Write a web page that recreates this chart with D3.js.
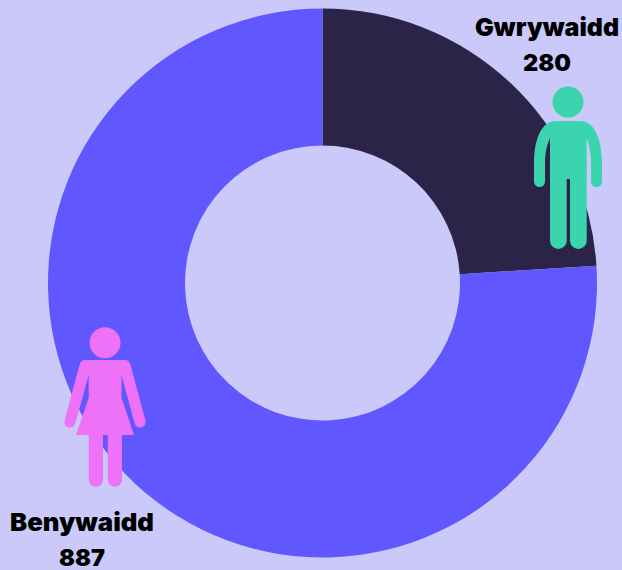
<!DOCTYPE html>
<html>
<head>
<meta charset="utf-8">
<script src="https://cdn.jsdelivr.net/npm/d3@7"></script>
<style>
    html, body { margin: 0; padding: 0; background: #cbc8fa; overflow: hidden; }
    svg { display: block; }
    .label { font-family: Inter, sans-serif; font-weight: 900; fill: #000; text-anchor: middle; }
    .name { font-size: 24.5px; }
    .count { font-size: 23.5px; }
</style>
</head>
<body>
<div id="chart"></div>
<script>
const categories = ["Gwrywaidd", "Benywaidd"];
const values = [280, 887];
const sliceColors = ["#2c2349", "#6157ff"];

const w = 622, h = 570;
const cx = 322.5, cy = 283, rOuter = 274.5, rInner = 137.5;

const svg = d3.select("#chart").append("svg")
    .attr("width", w)
    .attr("height", h);

const pie = d3.pie().sort(null).value(d => d);
const arc = d3.arc().innerRadius(rInner).outerRadius(rOuter);

svg.append("g")
    .attr("transform", `translate(${cx},${cy})`)
    .selectAll("path")
    .data(pie(values))
    .enter()
    .append("path")
        .attr("d", arc)
        .attr("fill", (d, i) => sliceColors[i]);

// figures, drawn around the centre of the head
const man = svg.append("g").attr("transform", "translate(568,102)").attr("fill", "#3ad4af");
man.append("circle").attr("r", 15.5);
man.append("path").attr("d",
    "M-12,19 H12 C26,19 34,36 34,62 V79.5 A5.5,5.5 0 0 1 23,79.5 V62 C23,50 21,43 18.7,36 " +
    "V138.7 A8.35,8.35 0 0 1 2,138.7 V77 H-1.3 V138.7 A8.35,8.35 0 0 1 -18,138.7 V36 " +
    "C-21,43 -23,50 -23,62 V79.5 A5.5,5.5 0 0 1 -34,79.5 V62 C-34,36 -26,19 -12,19 Z");

const woman = svg.append("g").attr("transform", "translate(105,342.7)").attr("fill", "#ee72f8");
woman.append("circle").attr("r", 15.5);
woman.append("path").attr("d",
    "M-20,17.3 H20 Q24,17.3 25.5,22 L40.5,78 A5.6,5.6 0 0 1 29.6,80.6 L16.5,32.5 V55 L29,92.3 H17 V137 " +
    "A7.1,7.1 0 0 1 2.8,137 V92.3 H-2 V137 A7.1,7.1 0 0 1 -16.2,137 V92.3 H-29 L-16.3,55 V32.5 " +
    "L-29.6,80.6 A5.6,5.6 0 0 1 -40.5,78 L-25.5,22 Q-24,17.3 -20,17.3 Z");

const labelX = [547, 82];
const labelY = [36, 531];

categories.forEach((c, i) => {
    svg.append("text").attr("class", "label name").attr("x", labelX[i]).attr("y", labelY[i])
        .attr("textLength", 144).attr("lengthAdjust", "spacingAndGlyphs").text(c);
    svg.append("text").attr("class", "label count").attr("x", labelX[i]).attr("y", labelY[i] + 35).text(values[i]);
});
</script>
</body>
</html>
